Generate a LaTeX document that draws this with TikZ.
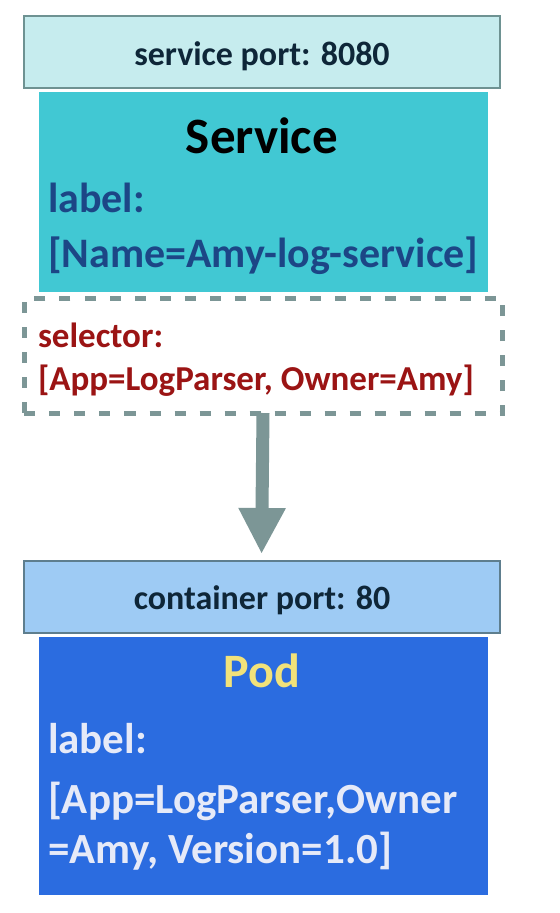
\documentclass[tikz,border=0pt]{standalone}
\usepackage{fontspec}
\setmainfont{Carlito}
\usetikzlibrary{arrows.meta}
\definecolor{portfill}{HTML}{C6ECEE}
\definecolor{portdraw}{HTML}{6E9292}
\definecolor{svcfill}{HTML}{41C8D3}
\definecolor{svctext}{HTML}{1C4686}
\definecolor{seltext}{HTML}{9B1414}
\definecolor{dashcol}{HTML}{7C9696}
\definecolor{cportfill}{HTML}{9ECBF4}
\definecolor{cportdraw}{HTML}{5E7E8E}
\definecolor{podfill}{HTML}{2B6CE0}
\definecolor{podtitle}{HTML}{F2E27A}
\definecolor{podtext}{HTML}{E6EAF8}
\definecolor{darktext}{HTML}{0E2638}
\tikzset{
  box/.style={inner sep=0pt, outer sep=0pt},
  txt/.style={inner sep=0pt, outer sep=0pt, anchor=base west, font=\bfseries},
  ctxt/.style={inner sep=0pt, outer sep=0pt, anchor=base, font=\bfseries},
}
\begin{document}
\begin{tikzpicture}[x=1bp,y=-1bp]
\useasboundingbox (0,0) rectangle (560,913);
\fill[white] (0,0) rectangle (560,913);
% service port
\node[box, draw=portdraw, fill=portfill, line width=2bp, minimum width=476bp, minimum height=72bp] (sport) at (262,52) {};
\node[ctxt, text=darktext, font=\bfseries\fontsize{34bp}{40bp}\selectfont] (sporttxt) at (262,65) {service port: 8080};
% service
\node[box, fill=svcfill, minimum width=449bp, minimum height=200bp] (svc) at (263.5,192) {};
\node[ctxt, text=black, font=\bfseries\fontsize{51bp}{60bp}\selectfont] (svctitle) at (262,153) {Service};
\node[txt, text=svctext, font=\bfseries\fontsize{42bp}{50bp}\selectfont] (svclab) at (48,212) {label:};
\node[txt, text=svctext, font=\bfseries\fontsize{42bp}{50bp}\selectfont] (svcname) at (48,267) {[Name=Amy-log-service]};
% selector
\node[box, draw=dashcol, line width=5bp, dash pattern=on 11bp off 14bp, minimum width=478bp, minimum height=115bp] (sel) at (263.5,355.5) {};
\node[txt, text=seltext, font=\bfseries\fontsize{35bp}{40bp}\selectfont] (seltitle) at (38,347) {selector:};
\node[txt, text=seltext, font=\bfseries\fontsize{35bp}{40bp}\selectfont] (selval) at (38,390) {[App=LogParser, Owner=Amy]};
% container port
\node[box, draw=cportdraw, fill=cportfill, line width=2bp, minimum width=476bp, minimum height=72bp] (cport) at (262,597) {};
\node[ctxt, text=darktext, font=\bfseries\fontsize{34bp}{40bp}\selectfont] (cporttxt) at (262,609) {container port: 80};
% pod
\node[box, fill=podfill, minimum width=449bp, minimum height=258bp] (pod) at (263.5,766) {};
\node[ctxt, text=podtitle, font=\bfseries\fontsize{48bp}{56bp}\selectfont] (podtitle) at (262,687) {Pod};
\node[txt, text=podtext, font=\bfseries\fontsize{43bp}{52bp}\selectfont] (podlab) at (48,753) {label:};
\node[txt, text=podtext, font=\bfseries\fontsize{43bp}{52bp}\selectfont] (podl1) at (48,813) {[App=LogParser,Owner};
\node[txt, text=podtext, font=\bfseries\fontsize{43bp}{52bp}\selectfont] (podl2) at (48,863) {=Amy, Version=1.0]};
% arrow
\draw[dashcol, line width=13bp, -{Triangle[width=44bp,length=46bp]}, shorten >=7bp] ([xshift=-0.5bp]sel.south) -- ([xshift=-0.5bp]cport.north);
\end{tikzpicture}
\end{document}
